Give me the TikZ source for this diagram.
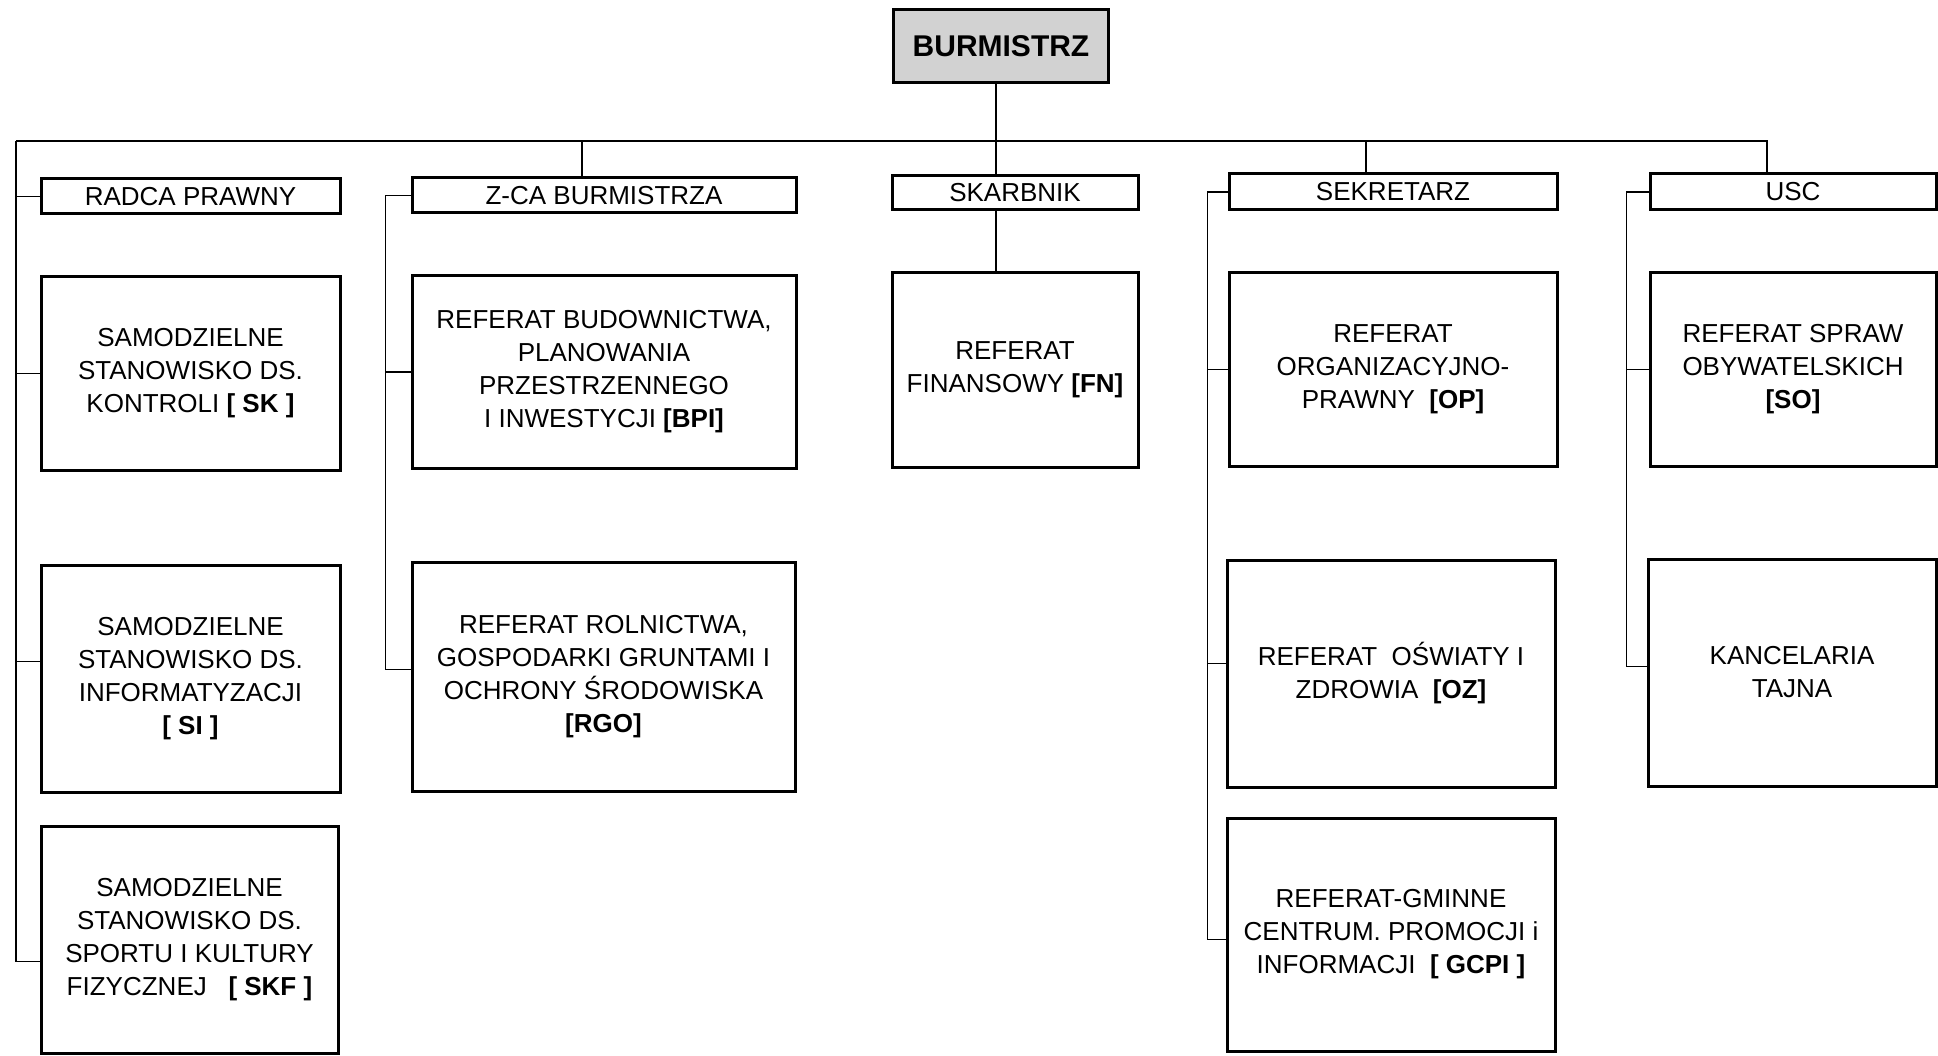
\documentclass[tikz,border=0pt]{standalone}
\usepackage{fontspec}
\setmainfont{Liberation Sans}
\usetikzlibrary{positioning}

\begin{document}
\begin{tikzpicture}[x=1pt, y=-1pt,
    box/.style={draw, line width=3pt, inner sep=0pt, align=center,
        font=\fontsize{26}{33}\selectfont},
    dims/.style 2 args={minimum width=#1pt, minimum height=#2pt},
    link/.style={line width=1.6pt}]
    \useasboundingbox (0,0) rectangle (1938,1056);

    \node[box, dims={215}{73}, fill=gray!35, font=\fontsize{30}{36}\selectfont\bfseries] (burm) at (1001,46) {BURMISTRZ};

    \node[box, dims={299}{35}] (radca) at (190.5,196.5) {RADCA PRAWNY};
    \node[box, dims={299}{193}] (sk) at (190.5,373.5) {SAMODZIELNE\\STANOWISKO DS.\\KONTROLI \textbf{[ SK ]}};
    \node[box, dims={299}{227}] (si) at (190.5,678.5) {SAMODZIELNE\\STANOWISKO DS.\\INFORMATYZACJI\\\textbf{[ SI ]}};
    \node[box, dims={297}{227}] (skf) at (189.5,939.5) {SAMODZIELNE\\STANOWISKO DS.\\SPORTU I KULTURY\\FIZYCZNEJ\ \ \ \textbf{[ SKF ]}};

    \node[box, dims={384}{35}] (zca) at (604,195.5) {Z-CA BURMISTRZA};
    \node[box, dims={384}{192}] (bpi) at (604,372) {REFERAT BUDOWNICTWA,\\PLANOWANIA\\PRZESTRZENNEGO\\I INWESTYCJI \textbf{[BPI]}};
    \node[box, dims={383}{229}] (rgo) at (603.5,676.5) {REFERAT ROLNICTWA,\\GOSPODARKI GRUNTAMI I\\OCHRONY ŚRODOWISKA\\\textbf{[RGO]}};

    \node[box, dims={246}{34}] (skarb) at (1015,193) {SKARBNIK};
    \node[box, dims={246}{194}] (fn) at (1015,370) {REFERAT\\FINANSOWY \textbf{[FN]}};

    \node[box, dims={328}{36}] (sekr) at (1393,192) {SEKRETARZ};
    \node[box, dims={328}{193}] (op) at (1393,369.5) {REFERAT\\ORGANIZACYJNO-\\PRAWNY\ \ \textbf{[OP]}};
    \node[box, dims={328}{227}] (oz) at (1391,673.5) {REFERAT\ \ OŚWIATY I\\ZDROWIA\ \ \textbf{[OZ]}};
    \node[box, dims={328}{233}] (gcpi) at (1391,934.5) {REFERAT-GMINNE\\CENTRUM. PROMOCJI i\\INFORMACJI\ \ \textbf{[ GCPI ]}};

    \node[box, dims={286}{36}] (usc) at (1793,192) {USC};
    \node[box, dims={286}{193}] (so) at (1793,369.5) {REFERAT SPRAW\\OBYWATELSKICH\\\textbf{[SO]}};
    \node[box, dims={288}{227}] (kt) at (1792,672.5) {KANCELARIA\\TAJNA};

    \coordinate (lbus) at (16,141);
    \coordinate (burmtap) at ([xshift=-5pt]burm.south);
    \coordinate (zcatap) at ([xshift=-22pt]zca.north);
    \coordinate (sekrtap) at ([xshift=-27pt]sekr.north);
    \coordinate (zspine) at ([xshift=-25pt]zca.west);
    \coordinate (sspine) at ([xshift=-20pt]sekr.west);
    \coordinate (uspine) at ([xshift=-22pt]usc.west);

    \draw[link] (lbus) -| ([xshift=-26pt]usc.north);
    \draw[link] (burmtap) -- (burmtap |- skarb.north);
    \draw[link] (skarb.south -| burmtap) -- (burmtap |- fn.north);
    \draw[link] (zcatap) -- (zcatap |- lbus);
    \draw[link] (sekrtap) -- (sekrtap |- lbus);

    \draw[link] (lbus) |- ([yshift=-22pt]skf.west);
    \draw[link] (radca.west) -- (radca.west -| lbus);
    \draw[link] (sk.west) -- (sk.west -| lbus);
    \draw[link] ([yshift=17pt]si.west) -- ([yshift=17pt]si.west -| lbus);

    \draw[link] (zca.west) -- (zspine) |- ([yshift=7pt]rgo.west);
    \draw[link] (bpi.west) -- (bpi.west -| zspine);

    \draw[link] (sekr.west) -- (sspine) |- ([yshift=-5pt]gcpi.west);
    \draw[link] (op.west) -- (op.west -| sspine);
    \draw[link] ([yshift=10pt]oz.west) -- ([yshift=10pt]oz.west -| sspine);

    \draw[link] (usc.west) -- (uspine) |- ([yshift=6pt]kt.west);
    \draw[link] (so.west) -- (so.west -| uspine);
\end{tikzpicture}
\end{document}
